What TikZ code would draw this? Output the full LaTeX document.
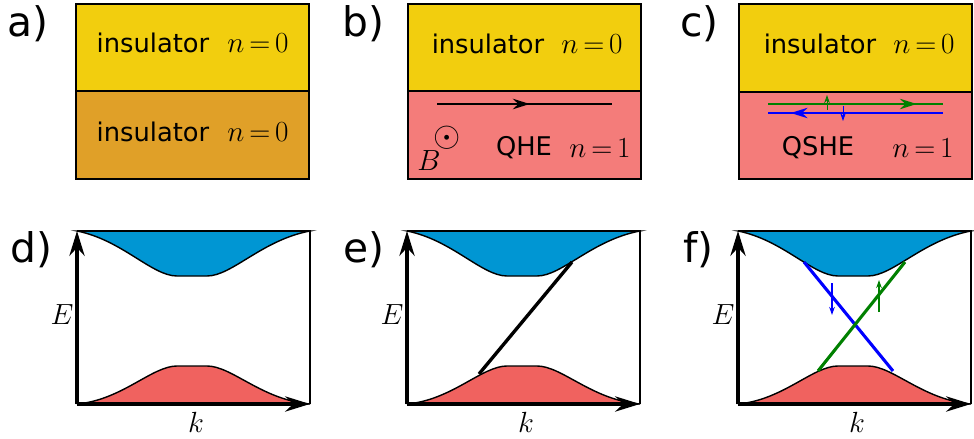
\documentclass[tikz,border=0pt]{standalone}
\usepackage{fontspec}
\setmainfont{DejaVu Sans}
\usetikzlibrary{arrows.meta,decorations.markings}
\definecolor{InsGold}{RGB}{242,206,14}
\definecolor{InsAmber}{RGB}{224,160,40}
\definecolor{TopoPink}{RGB}{244,124,122}
\definecolor{BandBlue}{RGB}{0,150,211}
\definecolor{BandRed}{RGB}{240,98,95}
\definecolor{EdgeGreen}{RGB}{0,128,0}
\tikzset{
  slab/.style={draw=black,line width=1pt},
  lbl/.style={font=\fontsize{18.3}{20}\selectfont,inner sep=0pt},
  mth/.style={font=\fontsize{20}{22}\selectfont,inner sep=0pt},
  panel/.style={font=\fontsize{29}{32}\selectfont,anchor=base west,inner sep=0pt},
  axis/.style={line width=2.4pt,-{Stealth[length=6.2mm,width=3.8mm]}},
  band/.style={draw=black,line width=1pt},
  edgeline/.style={line width=#1},
  midarrow/.style={postaction={decorate},decoration={markings,mark=at position #1 with {\arrow{Stealth[length=4.2mm,width=2.6mm]}}}},
  spin/.style={line width=0.7pt,-{Stealth[length=2mm,width=1.4mm]}},
}
\begin{document}
\begin{tikzpicture}[x=0.025cm,y=-0.025cm]
\useasboundingbox (0,0) rectangle (974,439);
% top row: slabs
\filldraw[slab,fill=InsGold] (76,4) rectangle (309,91);
\filldraw[slab,fill=InsAmber] (76,91) rectangle (309,179);
\filldraw[slab,fill=InsGold] (408,4) rectangle (641,91);
\filldraw[slab,fill=TopoPink] (408,91) rectangle (641,179);
\filldraw[slab,fill=InsGold] (739,4) rectangle (972,92);
\filldraw[slab,fill=TopoPink] (739,92) rectangle (972,179);
\node[panel] (laba) at (7,37) {a)};
\node[panel] (labb) at (342,37) {b)};
\node[panel] (labc) at (680,37) {c)};
% a) two insulators
\node[lbl] (insA1) at (153,43) {insulator};
\node[mth] (nA1) at (258,43) {$n\,{=}\,0$};
\node[lbl] (insA2) at (153,132) {insulator};
\node[mth] (nA2) at (258,132) {$n\,{=}\,0$};
% b) quantum Hall
\node[lbl] (insB) at (488,44) {insulator};
\node[mth] (nB1) at (592,44) {$n\,{=}\,0$};
\node[lbl] (qhe) at (524,148) {QHE};
\node[mth] (nB2) at (600,148) {$n\,{=}\,1$};
\node[mth,font=\fontsize{27}{30}\selectfont] (bdot) at (447,138) {$\odot$};
\node[mth] (bfield) at (429,161) {$B$};
\coordinate (qheL) at (437,104);
\coordinate (qheR) at (612,104);
\draw[edgeline=1.7pt,midarrow=0.53] (qheL) -- (qheR);
% c) quantum spin Hall
\node[lbl] (insC) at (820,44) {insulator};
\node[mth] (nC1) at (924,44) {$n\,{=}\,0$};
\node[lbl] (qshe) at (818,148) {QSHE};
\node[mth] (nC2) at (923,148) {$n\,{=}\,1$};
\coordinate (upL) at (768,104);
\coordinate (upR) at (943,104);
\coordinate (dnL) at (768,113);
\coordinate (dnR) at (943,113);
\draw[edgeline=1.4pt,EdgeGreen,midarrow=0.85] (upL) -- (upR);
\draw[edgeline=1.4pt,blue,midarrow=0.87] (dnR) -- (dnL);
\coordinate (upS1) at (827,110);
\coordinate (upS2) at (827,95);
\coordinate (dnS1) at (843,106);
\coordinate (dnS2) at (843,121);
\draw[spin,EdgeGreen] (upS1) -- (upS2);
\draw[spin,blue] (dnS1) -- (dnS2);
% bottom row: band structures
\foreach \x/\p in {77/d,407/e,738/f}{
  \filldraw[band,fill=BandBlue] (\x,231) .. controls (\x+45,240) and (\x+75,276) .. (\x+100,276)
    -- (\x+130,276) .. controls (\x+155,276) and (\x+185,240) .. (\x+233,231) -- cycle;
  \filldraw[band,fill=BandRed] (\x,404) .. controls (\x+45,400) and (\x+75,366) .. (\x+100,366)
    -- (\x+130,366) .. controls (\x+155,366) and (\x+185,400) .. (\x+233,404) -- cycle;
  \coordinate (O\p) at (\x,404);
  \coordinate (Etop\p) at (\x,231);
  \coordinate (Kend\p) at (\x+233,404);
  \coordinate (C\p) at (\x+233,231);
  \draw[line width=2pt] (Etop\p) -- (C\p) -- (Kend\p);
  \draw[axis] (O\p) -- (Etop\p);
  \draw[axis] (O\p) -- (Kend\p);
  \node[mth] (E\p) at (\x-15,315) {$E$};
  \node[mth] (k\p) at (\x+119,422) {$k$};
}
\node[panel] (labd) at (10,262) {d)};
\node[panel] (labe) at (343,262) {e)};
\node[panel] (labf) at (683,262) {f)};
% e) chiral edge state
\coordinate (chL) at (479,374);
\coordinate (chR) at (572,262);
\draw[line width=2.4pt] (chL) -- (chR);
% f) helical edge states
\coordinate (blT) at (804,262);
\coordinate (blB) at (893,371);
\coordinate (grB) at (818,371);
\coordinate (grT) at (905,262);
\draw[line width=2.2pt,blue] (blT) -- (blB);
\draw[line width=2.2pt,EdgeGreen] (grB) -- (grT);
\coordinate (dnF1) at (832,283);
\coordinate (dnF2) at (832,315);
\coordinate (upF1) at (879,312);
\coordinate (upF2) at (879,280);
\draw[spin,line width=1.2pt,blue] (dnF1) -- (dnF2);
\draw[spin,line width=1.2pt,EdgeGreen] (upF1) -- (upF2);
\end{tikzpicture}
\end{document}
